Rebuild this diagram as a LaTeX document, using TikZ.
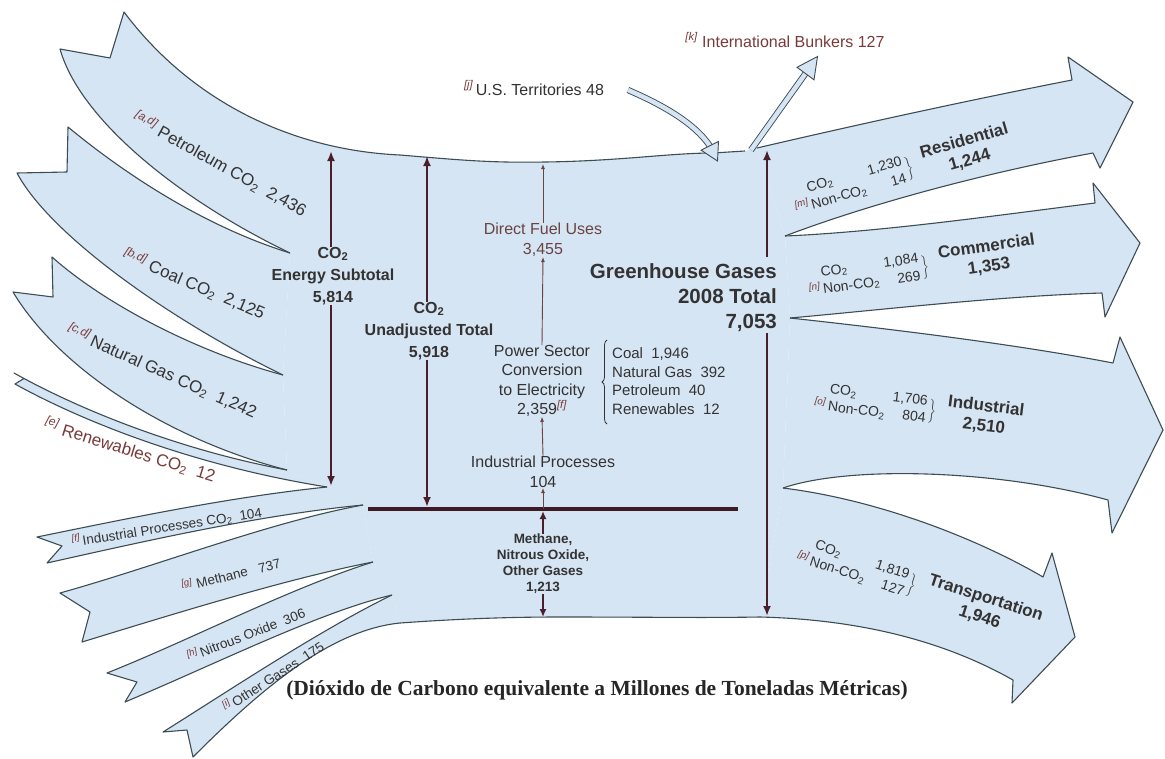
\documentclass[tikz,border=0pt]{standalone}
\usepackage{fontspec}
\setmainfont{Liberation Sans}
\newfontfamily\capfont{Liberation Serif}
\usetikzlibrary{arrows.meta,decorations.pathreplacing}
\definecolor{fillc}{HTML}{D5E5F3}
\definecolor{linec}{HTML}{3E4C54}
\definecolor{txtc}{HTML}{343232}
\definecolor{redc}{HTML}{7A3A3A}
\definecolor{arrc}{HTML}{4A1E2A}
\definecolor{brnc}{HTML}{6B4343}
\newcommand\fn[1]{\textsuperscript{\itshape\color{redc}[#1]}}
\newcommand\cotwo{CO\textsubscript{2}}
\newcommand\fsz[2]{\fontsize{#1}{#2}\selectfont}
\newcommand\secblock[5]{\begin{tabular}{@{}l@{\hspace{6pt}}r@{}}\cotwo & #1\\ \llap{\fn{#2}\,}Non-\cotwo & #3\end{tabular}\hspace{2pt}$\bigg\}$\hspace{11pt}{\bfseries\fsz{17}{20}\begin{tabular}{@{}c@{}}#4\\#5\end{tabular}}}

\def\flowPet{(290,253) .. controls (180,200) and (80,120) .. (60,49) -- (110,58) -- (124,12) .. controls (190,100) and (290,150) .. (400,155)}
\def\flowCoal{(290,253) .. controls (200,225) and (120,170) .. (68,127) -- (67,172) -- (17,173) .. controls (50,235) and (170,320) .. (283,375)}
\def\flowNG{(283,375) .. controls (190,350) and (100,300) .. (52,257) -- (53,297) -- (13,292) .. controls (60,370) and (170,440) .. (287,470)}
\def\flowRen{(287,470) .. controls (180,450) and (80,410) .. (14,373) -- (24,378.5) -- (15,384) .. controls (80,420) and (190,465) .. (327,487)}
\def\flowIP{(327,487) .. controls (230,497) and (130,518) .. (37,537) -- (62,546) -- (47,563) .. controls (150,540) and (260,515) .. (363,505)}
\def\flowMe{(363,505) .. controls (270,522) and (160,565) .. (60,593) -- (90,612) -- (82,642) .. controls (180,612) and (290,578) .. (373,562)}
\def\flowNO{(373,562) .. controls (290,588) and (190,640) .. (107,673) -- (137,682) -- (125,702) .. controls (220,662) and (320,612) .. (392,595)}
\def\flowOG{(392,595) .. controls (320,630) and (230,690) .. (163,732) -- (187,730) -- (193,757) .. controls (260,690) and (330,630) .. (400,623)}
\def\flowTop{(400,155) .. controls (460,160) and (490,163) .. (545,162) .. controls (620,161) and (670,153) .. (713,153) -- (745,151)}
\def\flowBot{(400,623) .. controls (470,618) and (520,617) .. (560,617) .. controls (650,617) and (700,618) .. (760,617)}
\def\flowRes{(757,148) .. controls (860,124) and (970,100) .. (1072,80) -- (1068,57) -- (1133,102) -- (1100,168) -- (1093,153) .. controls (1000,170) and (880,200) .. (785,236)}
\def\flowCom{(785,236) .. controls (880,232) and (1000,215) .. (1095,203) -- (1093,183) -- (1140,243) -- (1105,317) -- (1102,293) .. controls (1000,296) and (880,310) .. (790,318)}
\def\flowInd{(790,318) .. controls (900,330) and (1020,345) .. (1113,363) -- (1120,337) -- (1163,430) -- (1112,533) -- (1108,500) .. controls (1000,470) and (850,465) .. (783,488)}
\def\flowTra{(783,488) .. controls (880,500) and (980,540) .. (1043,577) -- (1052,553) -- (1075,637) -- (1012,703) -- (1013,680) .. controls (960,650) and (880,620) .. (760,617)}

\begin{document}
\begin{tikzpicture}[x=1pt,y=-1pt,
  edge/.style={draw=linec, line width=1.1pt, line join=round},
  varrow/.style={draw=arrc, line width=2.4pt, -{Latex[length=10pt,width=8pt]}},
  carrow/.style={draw=brnc, line width=0.9pt, -{Latex[length=5pt,width=4pt]}},
  hollow/.style={draw=linec, line width=0.9pt, double=fillc, double distance=4.5pt},
  hhead/.style={draw=linec, line width=0.9pt, fill=fillc, line join=miter},
  lbl/.style={text=txtc, inner sep=0pt, font=\fsz{16}{19}},
  llbl/.style={text=txtc, inner sep=0pt, font=\fsz{17}{20}},
  blbl/.style={text=txtc, inner sep=0pt, align=center, font=\bfseries\fsz{16}{22}},
  slbl/.style={text=txtc, inner sep=0pt, font=\fsz{13.5}{16}},
  sec/.style={text=txtc, inner sep=0pt, font=\fsz{14}{17}},
  bracestyle/.style={draw=txtc, line width=0.8pt, decorate, decoration={brace, amplitude=5pt}}
]
\useasboundingbox (0,0) rectangle (1165,758);
\fill[white] (0,0) rectangle (1165,758);

% fills
\fill[fillc] \flowPet -- cycle;
\fill[fillc] \flowCoal -- cycle;
\fill[fillc] \flowNG -- cycle;
\fill[fillc] \flowRen -- cycle;
\fill[fillc] \flowIP -- cycle;
\fill[fillc] \flowMe -- cycle;
\fill[fillc] \flowNO -- cycle;
\fill[fillc] \flowOG -- cycle;
\fill[fillc] \flowRes -- cycle;
\fill[fillc] \flowCom -- cycle;
\fill[fillc] \flowInd -- cycle;
\fill[fillc] \flowTra -- cycle;
\fill[fillc] \flowTop -- (757,148) -- (785,236) -- (790,318) -- (783,488) -- (760,617) .. controls (700,618) and (650,617) .. (560,617) .. controls (520,617) and (470,618) .. (400,623) -- (392,595) -- (373,562) -- (363,505) -- (327,487) -- (287,470) -- (283,375) -- (290,253) -- cycle;

% outlines
\draw[edge] \flowPet;
\draw[edge] \flowTop;
\draw[edge] \flowCoal;
\draw[edge] \flowNG;
\draw[edge] \flowRen;
\draw[edge] \flowIP;
\draw[edge] \flowMe;
\draw[edge] \flowNO;
\draw[edge] \flowOG;
\draw[edge] \flowBot;
\draw[edge] \flowRes;
\draw[edge] \flowCom;
\draw[edge] \flowInd;
\draw[edge] \flowTra;

% hollow arrows: territories and bunkers
\node[lbl] (ust) at (534,88) {\fn{j}\,U.S. Territories 48};
\node[lbl, text=redc] (ib) at (785,40) {\fn{k} International Bunkers 127};
\coordinate (ustA) at (628,90);
\coordinate (ustB) at (709.8,145.8);
\draw[hollow] (ustA) .. controls (665,106) and (695,124) .. (ustB);
\draw[hhead] (718.5,141.4) -- (717.5,161) -- (701.1,150.2) -- cycle;
\coordinate (ibA) at (751,150);
\coordinate (ibB) at (805.5,73.5);
\draw[hollow] (ibA) -- (ibB);
\draw[hhead] (797,67.3) -- (817.5,56.5) -- (814,79.8) -- cycle;

% horizontal line
\coordinate (hL) at (368,509);
\coordinate (hR) at (738,509);
\draw[draw=arrc!85!black, line width=3.4pt] (hL) -- (hR);

% central labels
\node[blbl, align=right, font=\bfseries\fsz{20.5}{25}] (ghg) at (777,298) [anchor=east] {Greenhouse Gases\\2008 Total\\7,053};
\node[blbl] (esub) at (333,276) {\cotwo\\Energy Subtotal\\5,814};
\node[blbl] (unadj) at (429,331) {\cotwo\\Unadjusted Total\\5,918};
\node[lbl, align=center, text=brnc, font=\fsz{16}{20}] (dfu) at (543,240) {Direct Fuel Uses\\3,455};
\node[lbl, align=center, font=\fsz{16}{19.3}] (psc) at (542,381) {Power Sector\\Conversion\\to Electricity\\2,359\fn{f}};
\node[lbl, anchor=west, align=left, font=\fsz{15}{18.5}] (plist) at (612,381) {Coal\ \ 1,946\\Natural Gas\ \ 392\\Petroleum\ \ 40\\Renewables\ \ 12};
\coordinate (brB) at (607,424);
\coordinate (brT) at (607,340);
\draw[bracestyle] (brB) -- (brT);
\node[lbl, align=center, font=\fsz{16}{20}] (ipr) at (543,472) {Industrial Processes\\104};
\node[blbl, font=\bfseries\fsz{13.5}{16}] (meth) at (543,564) {Methane,\\Nitrous Oxide,\\Other Gases\\1,213};

% vertical arrows
\coordinate (eTop) at (331,151);
\coordinate (eBot) at (331,486);
\coordinate (uTop) at (427,156);
\coordinate (uBot) at (427,507);
\coordinate (gA) at (767,257);
\coordinate (gTop) at (767,150);
\coordinate (gB) at (767,333);
\coordinate (gBot) at (767,616);
\coordinate (cTop) at (543,164);
\coordinate (mTop) at (543,511);
\coordinate (mBot) at (543,617);
\draw[varrow] (esub.north -| eTop) -- (eTop);
\draw[varrow] (esub.south -| eTop) -- (eBot);
\draw[varrow] (unadj.north -| uTop) -- (uTop);
\draw[varrow] (unadj.south -| uTop) -- (uBot);
\draw[varrow] (gA) -- (gTop);
\draw[varrow] (gB) -- (gBot);
\draw[carrow] (dfu.north) -- (cTop);
\draw[carrow] (psc.north) -- (dfu.south);
\draw[carrow] (ipr.north) -- (psc.south);
\draw[carrow] (hL -| ipr) -- (ipr.south);
\draw[varrow, line width=2pt, -{Latex[length=8pt,width=7pt]}] (meth.north) -- (mTop);
\draw[varrow, line width=2pt, -{Latex[length=8pt,width=7pt]}] (meth.south) -- (mBot);

% left labels
\node[llbl, rotate=-29] (lpet) at (220,164) {\fn{a,d} Petroleum \cotwo\ \ 2,436};
\node[llbl, rotate=-23] (lcoal) at (194,284) {\fn{b,d} Coal \cotwo\ \ 2,125};
\node[llbl, rotate=-24] (lng) at (162,371) {\fn{c,d}\,Natural Gas \cotwo\ \ 1,242};
\node[llbl, rotate=-17, text=redc] (lren) at (130,450) {\fn{e} Renewables \cotwo\ \ 12};
\node[slbl, rotate=9] (lip) at (167,527) {\fn{f}\,Industrial Processes \cotwo\ \ 104};
\node[slbl, rotate=14] (lme) at (231,574) {\fn{g} Methane\ \ \ 737};
\node[slbl, rotate=21] (lno) at (246,634) {\fn{h}\,Nitrous Oxide\ \ 306};
\node[slbl, rotate=33] (log) at (273,676) {\fn{i}\,Other Gases\ \ 175};

% right sector labels
\node[sec, rotate=16] (lres) at (910,168) {\secblock{1,230}{m}{14}{Residential}{1,244}};
\node[sec, rotate=8] (lcom) at (929,266) {\secblock{1,084}{n}{269}{Commercial}{1,353}};
\node[sec, rotate=-7] (lind) at (926,410) {\secblock{1,706}{o}{804}{Industrial}{2,510}};
\node[sec, rotate=-18] (ltra) at (926,590) {\secblock{1,819}{p}{127}{Transportation}{1,946}};

% caption
\node[inner sep=0pt, text=black!85, font=\capfont\bfseries\fsz{21.5}{24}] (cap) at (597,690) {(Dióxido de Carbono equivalente a Millones de Toneladas Métricas)};
\end{tikzpicture}
\end{document}
